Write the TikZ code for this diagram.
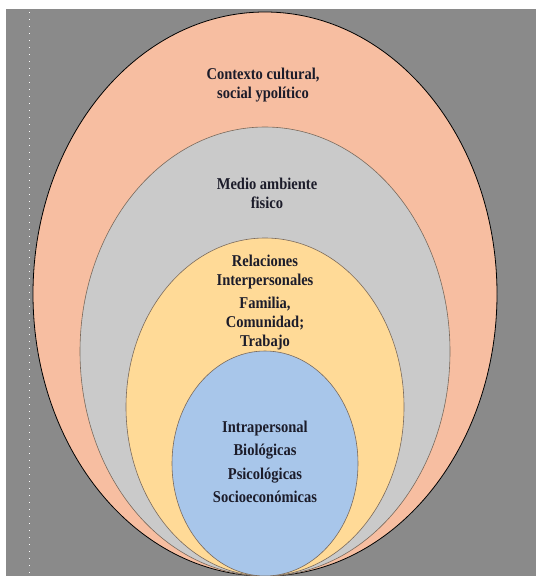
\documentclass[tikz,border=0pt]{standalone}
\usepackage{fontspec}
\setmainfont{Liberation Serif}
\newfontfamily\labelfont{Liberation Serif}[FakeStretch=0.88]
\definecolor{bggray}{HTML}{8A8A8A}
\definecolor{ctxfill}{HTML}{F7BEA1}
\definecolor{medfill}{HTML}{CACACA}
\definecolor{relfill}{HTML}{FFDA97}
\definecolor{intfill}{HTML}{A8C6EA}
\definecolor{rimline}{HTML}{7A6A5C}
\definecolor{labeltext}{HTML}{1C1C2A}
\tikzset{
    layer/.style={draw=rimline, line width=0.6pt},
    layertext/.style={align=center, text=labeltext, inner sep=0pt,
        font=\labelfont\bfseries\fontsize{16.5}{19}\selectfont}
}
\begin{document}
\begin{tikzpicture}[x=1pt, y=-1pt] % pixel units, y downwards
        % Page area and background
        \useasboundingbox (0,0) rectangle (536,576);
        \fill[white] (0,0) rectangle (536,576);
        \fill[bggray] (6,9) rectangle (536,576);
        \draw[white, line width=1pt, dash pattern=on 1pt off 6pt] (29,12) -- (29,576);

        % Nested layers, all touching at the bottom
        \draw[fill=ctxfill, draw=black, line width=0.8pt] (265,294) ellipse [x radius=232, y radius=282];
        \draw[layer, fill=medfill] (265,351.5) ellipse [x radius=185, y radius=224.5];
        \draw[layer, fill=relfill] (265,407) ellipse [x radius=139, y radius=169];
        \draw[layer, fill=intfill] (265,463.5) ellipse [x radius=93, y radius=112.5];

        % Labels
        \node[layertext] (contexto) at (263,85) {Contexto cultural,\\social ypolítico};
        \node[layertext] (medio) at (267,193) {Medio ambiente\\fisico};
        \node[layertext] (relaciones) at (265,272) {Relaciones\\Interpersonales};
        \node[layertext] (familia) at (265,324) {Familia,\\Comunidad;\\Trabajo};
        \node[layertext] (intra) at (265,462) {Intrapersonal\\[4.5pt]Biológicas\\[4.5pt]Psicológicas\\[4.5pt]Socioeconómicas};

    \end{tikzpicture}
\end{document}
